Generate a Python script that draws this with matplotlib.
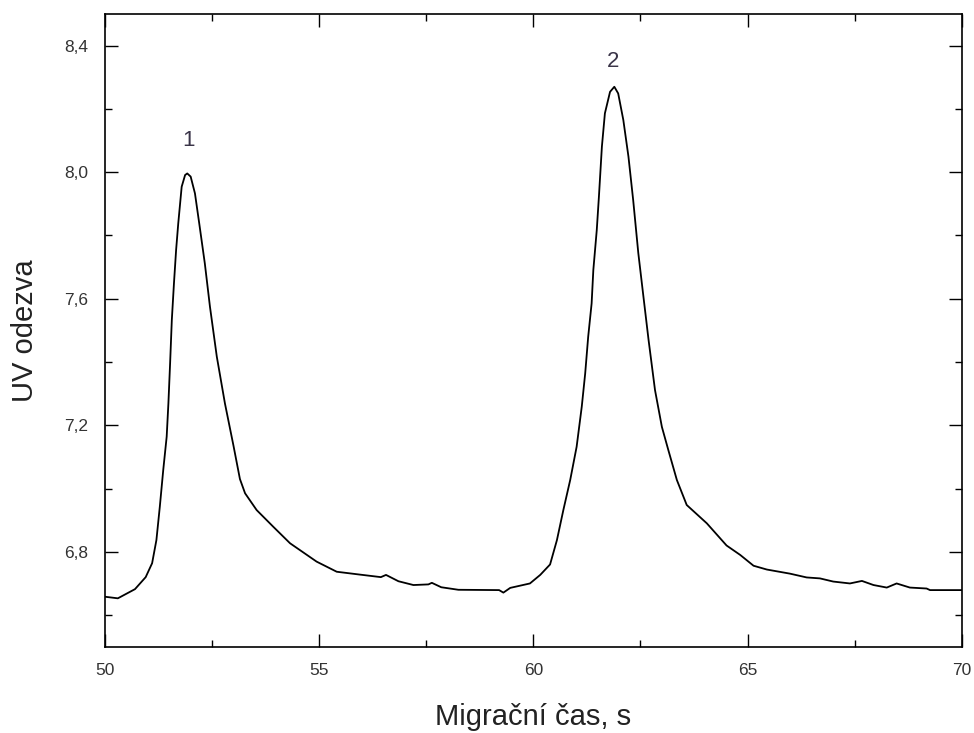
import matplotlib
matplotlib.use("Agg")
import matplotlib.pyplot as plt
from matplotlib.ticker import FixedLocator, MultipleLocator

# ---- data ----
time_s = [50.0, 50.3, 50.7, 50.95, 51.1, 51.2, 51.28, 51.36, 51.44, 51.48,
          51.52, 51.56, 51.61, 51.66, 51.71, 51.79, 51.87, 51.92, 52.0, 52.1,
          52.2, 52.33, 52.45, 52.61, 52.8, 53.0, 53.15, 53.27, 53.54, 53.93,
          54.32, 54.94, 55.41, 55.95, 56.44, 56.56, 56.85, 57.2, 57.55, 57.63,
          57.85, 58.25, 59.2, 59.3, 59.46, 59.92, 60.16, 60.39, 60.55, 60.7,
          60.86, 61.01, 61.13, 61.21, 61.28, 61.36, 61.40, 61.48, 61.53, 61.60,
          61.67, 61.79, 61.89, 61.98, 62.10, 62.22, 62.33, 62.45, 62.57, 62.69,
          62.84, 63.0, 63.15, 63.35, 63.58, 64.05, 64.51, 64.83, 65.14, 65.45,
          65.99, 66.38, 66.69, 67.0, 67.39, 67.67, 67.94, 68.25, 68.48, 68.79,
          69.18, 69.26, 70.0]
uv_response = [6.658, 6.653, 6.682, 6.72, 6.764, 6.837, 6.943, 7.059, 7.164, 7.269,
               7.396, 7.533, 7.649, 7.754, 7.838, 7.954, 7.991, 7.996, 7.986, 7.933,
               7.838, 7.712, 7.575, 7.417, 7.269, 7.135, 7.03, 6.985, 6.932, 6.879,
               6.827, 6.769, 6.737, 6.728, 6.72, 6.727, 6.707, 6.695, 6.697, 6.702,
               6.688, 6.68, 6.679, 6.671, 6.686, 6.700, 6.727, 6.76, 6.837, 6.932,
               7.027, 7.132, 7.259, 7.364, 7.480, 7.585, 7.691, 7.817, 7.922, 8.081,
               8.186, 8.254, 8.270, 8.249, 8.165, 8.049, 7.912, 7.744, 7.606, 7.469,
               7.311, 7.195, 7.122, 7.027, 6.948, 6.890, 6.82, 6.79, 6.756, 6.744,
               6.731, 6.719, 6.716, 6.706, 6.700, 6.708, 6.695, 6.687, 6.700, 6.687,
               6.684, 6.679, 6.679]

peak_labels = ["1", "2"]
peak_label_x = [51.94, 61.87]
peak_label_y = [8.10, 8.35]

x_ticks = [50, 55, 60, 65, 70]
x_ticklabels = ["50", "55", "60", "65", "70"]
y_ticks = [6.8, 7.2, 7.6, 8.0, 8.4]
y_ticklabels = ["6,8", "7,2", "7,6", "8,0", "8,4"]

x_label = "Migrační čas, s"
y_label = "UV odezva"

# ---- figure ----
plt.rcParams['font.family'] = ['Liberation Sans', 'DejaVu Sans']
fig = plt.figure(figsize=(9.74, 7.33), dpi=100)
ax = fig.add_axes([0.1078, 0.1177, 0.8796, 0.8632])

ax.plot(time_s, uv_response, color='black', lw=1.3)

for lab, lx, ly in zip(peak_labels, peak_label_x, peak_label_y):
    ax.text(lx, ly, lab, ha='center', va='center', fontsize=16, color='#3a3448')

ax.set_xlim(50, 70)
ax.set_ylim(6.5, 8.5)
ax.xaxis.set_major_locator(FixedLocator(x_ticks))
ax.set_xticklabels(x_ticklabels)
ax.xaxis.set_minor_locator(MultipleLocator(2.5))
ax.yaxis.set_major_locator(FixedLocator(y_ticks))
ax.set_yticklabels(y_ticklabels)
ax.yaxis.set_minor_locator(MultipleLocator(0.2))

ax.tick_params(which='both', direction='in', top=True, right=True, width=1.0,
               labelsize=12.5, labelcolor='#333333', pad=12)
ax.tick_params(which='major', length=9.5)
ax.tick_params(which='minor', length=5)
for s in ax.spines.values():
    s.set_linewidth(1.2)

ax.set_xlabel(x_label, fontsize=21, color='#222222', labelpad=18)
ax.set_ylabel(y_label, fontsize=21, color='#222222', labelpad=18)

fig.savefig("out.png", dpi=100)
